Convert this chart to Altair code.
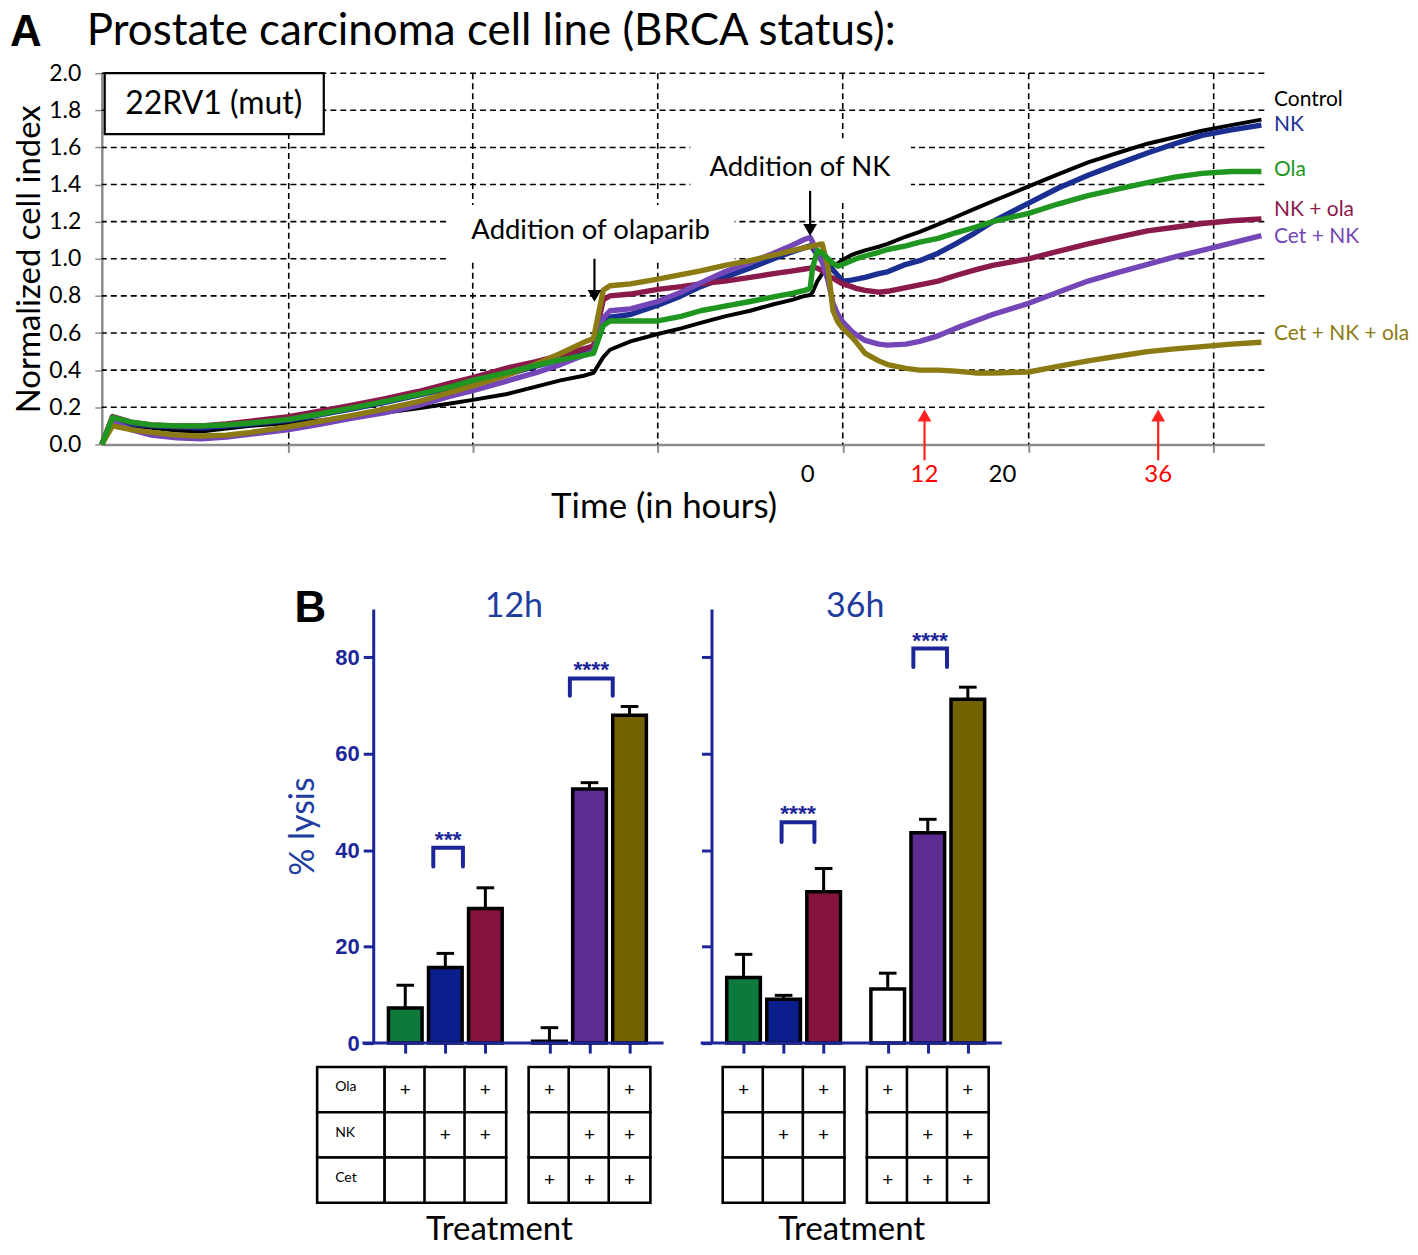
import altair as alt
import pandas as pd

# ======================= Panel A data (xCELLigence curves) =======================
series_names = ["Control", "NK", "Ola", "NK + ola", "Cet + NK", "Cet + NK + ola"]
line_colors = ["#000000", "#1b2f93", "#1f961f", "#8a1a4a", "#7546b8", "#8c7a12"]

hours = [-72.5, -71.4, -69.5, -67.4, -64.8, -62.3, -59.7, -57.2, -53.3, -50.0,
         -46.9, -43.5, -40.0, -36.7, -34.4, -31.0, -28.0, -25.4, -23.0, -22.0,
         -21.0, -20.3, -18.2, -15.4, -13.0, -11.0, -8.5, -5.9, -3.5, -1.5,
         -0.3, 0.25, 0.5, 1.0, 1.5, 2.1, 2.6, 3.1, 3.6, 4.5,
         5.0, 5.9, 7.3, 8.2, 10.1, 11.5, 13.4, 15.2, 17.2, 19.0,
         22.7, 25.7, 28.8, 31.8, 34.9, 37.7, 40.5, 43.5, 46.6]

control = [0.0, 0.13, 0.10, 0.09, 0.075, 0.07, 0.085, 0.10, 0.115, 0.13,
           0.15, 0.17, 0.195, 0.22, 0.24, 0.27, 0.31, 0.345, 0.37, 0.385,
           0.47, 0.51, 0.555, 0.595, 0.625, 0.655, 0.69, 0.72, 0.755, 0.78,
           0.80, 0.805, 0.82, 0.88, 0.92, 0.95, 0.965, 0.975, 0.995, 1.02,
           1.03, 1.045, 1.065, 1.08, 1.12, 1.145, 1.185, 1.225, 1.27, 1.31,
           1.39, 1.455, 1.52, 1.57, 1.62, 1.655, 1.69, 1.72, 1.75]

nk = [0.0, 0.13, 0.11, 0.10, 0.095, 0.09, 0.10, 0.11, 0.13, 0.16,
      0.19, 0.225, 0.265, 0.305, 0.335, 0.375, 0.42, 0.455, 0.49, 0.50,
      0.66, 0.685, 0.70, 0.75, 0.80, 0.85, 0.90, 0.95, 1.00, 1.04,
      1.06, 1.07, 1.06, 1.02, 0.99, 0.96, 0.94, 0.91, 0.88, 0.885,
      0.89, 0.90, 0.92, 0.93, 0.97, 0.99, 1.03, 1.08, 1.14, 1.20,
      1.30, 1.38, 1.45, 1.51, 1.57, 1.62, 1.665, 1.695, 1.72]

ola = [0.0, 0.145, 0.12, 0.105, 0.10, 0.10, 0.105, 0.115, 0.135, 0.165,
       0.195, 0.23, 0.27, 0.31, 0.345, 0.385, 0.425, 0.455, 0.48, 0.49,
       0.64, 0.665, 0.665, 0.665, 0.69, 0.72, 0.745, 0.77, 0.795, 0.815,
       0.83, 0.84, 0.95, 1.045, 1.03, 1.00, 0.975, 0.96, 0.97, 0.99,
       1.0, 1.015, 1.035, 1.05, 1.07, 1.09, 1.11, 1.14, 1.17, 1.20,
       1.245, 1.295, 1.34, 1.375, 1.41, 1.44, 1.46, 1.47, 1.47]

nk_ola = [0.0, 0.15, 0.12, 0.105, 0.10, 0.10, 0.11, 0.125, 0.15, 0.18,
          0.21, 0.245, 0.285, 0.33, 0.36, 0.41, 0.445, 0.48, 0.515, 0.53,
          0.78, 0.80, 0.81, 0.835, 0.85, 0.865, 0.88, 0.90, 0.92, 0.935,
          0.945, 0.95, 0.955, 0.95, 0.935, 0.91, 0.895, 0.88, 0.865, 0.85,
          0.84, 0.83, 0.82, 0.825, 0.845, 0.86, 0.88, 0.91, 0.94, 0.965,
          1.0, 1.04, 1.08, 1.115, 1.15, 1.17, 1.19, 1.205, 1.215]

cet_nk = [0.0, 0.12, 0.08, 0.05, 0.035, 0.03, 0.04, 0.055, 0.08, 0.11,
          0.14, 0.17, 0.21, 0.26, 0.29, 0.34, 0.385, 0.43, 0.48, 0.50,
          0.68, 0.72, 0.73, 0.77, 0.82, 0.87, 0.93, 0.98, 1.03, 1.075,
          1.105, 1.115, 1.09, 1.03, 0.98, 0.88, 0.76, 0.70, 0.66, 0.61,
          0.59, 0.56, 0.54, 0.535, 0.54, 0.555, 0.585, 0.625, 0.665, 0.70,
          0.76, 0.82, 0.88, 0.925, 0.97, 1.01, 1.045, 1.085, 1.125]

cet_nk_ola = [0.0, 0.10, 0.08, 0.065, 0.05, 0.045, 0.05, 0.065, 0.095, 0.125,
              0.155, 0.19, 0.23, 0.28, 0.315, 0.37, 0.43, 0.49, 0.55, 0.57,
              0.83, 0.855, 0.865, 0.89, 0.915, 0.935, 0.965, 0.99, 1.02, 1.045,
              1.06, 1.065, 1.07, 1.075, 1.08, 0.95, 0.72, 0.66, 0.625, 0.58,
              0.55, 0.49, 0.45, 0.43, 0.41, 0.40, 0.40, 0.395, 0.385, 0.385,
              0.39, 0.42, 0.45, 0.475, 0.50, 0.515, 0.527, 0.54, 0.55]

series_values = [control, nk, ola, nk_ola, cet_nk, cet_nk_ola]

y_ticks_A = [0.0, 0.2, 0.4, 0.6, 0.8, 1.0, 1.2, 1.4, 1.6, 1.8, 2.0]
vgrid_hours = [-53.3, -34.4, -15.4, 3.6, 22.7, 41.7]
time_labels = ["0", "12", "20", "36"]
time_label_hours = [0, 12, 20, 36]
time_label_colors = ["#000000", "#ff0000", "#000000", "#ff0000"]
end_label_values = [1.855, 1.72, 1.48, 1.265, 1.118, 0.597]

# ======================= Panel B data (% lysis) =======================
treatments = ["Ola", "NK", "NK + ola", "Cet + ola", "Cet + NK", "Cet + NK + ola"]
bar_colors = ["#0d7a3c", "#0b1f8c", "#84133f", "#ffffff", "#5c2c91", "#736200"]
lysis_12h = [7.3, 15.7, 27.9, 0.4, 52.7, 68.0]
sd_12h = [4.7, 2.9, 4.3, 2.8, 1.3, 1.8]
lysis_36h = [13.6, 9.1, 31.4, 11.2, 43.6, 71.3]
sd_36h = [4.8, 0.8, 4.8, 3.3, 2.8, 2.5]
agents = ["Ola", "NK", "Cet"]
has_agent = {"Ola": [1, 0, 1, 1, 0, 1], "NK": [0, 1, 1, 0, 1, 1], "Cet": [0, 0, 0, 1, 1, 1]}
panel_titles = ["12h", "36h"]
# significance brackets: (x from, x to, leg bottom, top, stars)
brackets_12h = [(0.70, 1.44, 36.6, 40.5, "***"), (4.11, 5.18, 72.0, 75.6, "****")]
brackets_36h = [(0.95, 1.77, 41.7, 45.8, "****"), (4.24, 5.08, 78.0, 81.8, "****")]

# ======================= styling =======================
FONT = "Lato"
AXB = "#1c2699"
TXTB = "#1f3c9f"
GRAY = "#8c8c8c"

WA, HA = 1165, 372
xA = alt.Scale(domain=[-72.5, 46.9], nice=False, zero=False)
yA = alt.Scale(domain=[0.0, 2.0], nice=False, zero=False)
axA_x = alt.Axis(values=vgrid_hours, labels=False, ticks=True, tickColor=GRAY, tickSize=8,
                 tickWidth=2, domainColor=GRAY, domainWidth=2.5, grid=False,
                 title="Time (in hours)", titleFont=FONT, titleFontSize=35,
                 titleFontWeight="normal", titleColor="black", titlePadding=36, titleX=563)
axA_y = alt.Axis(values=y_ticks_A, format=".1f", labelFont=FONT, labelFontSize=23,
                 labelColor="black", labelPadding=14, tickColor=GRAY, tickSize=7, tickWidth=1.5,
                 domainColor=GRAY, domainWidth=2.5, grid=False,
                 title="Normalized cell index", titleFont=FONT, titleFontSize=33,
                 titleFontWeight="normal", titleColor="black", titlePadding=2)


def XA(f):
    return alt.X(f, type="quantitative", scale=xA, axis=axA_x)


def YA(f):
    return alt.Y(f, type="quantitative", scale=yA, axis=axA_y)


dash = [6, 4]
hgrid = alt.Chart(pd.DataFrame({"v": y_ticks_A[1:]})).mark_rule(
    color="black", strokeDash=dash, strokeWidth=1.6).encode(y=YA("v"))
vgrid = alt.Chart(pd.DataFrame({"h": vgrid_hours})).mark_rule(
    color="black", strokeDash=dash, strokeWidth=1.6).encode(x=XA("h"))

# white masks that interrupt the grid behind the annotations
masks = alt.Chart(pd.DataFrame({
    "h0": [-37.1, -12.05], "h1": [-7.5, 10.6], "v0": [0.985, 1.30], "v1": [1.29, 1.65]
})).mark_rect(fill="white").encode(x=XA("h0"), x2="h1", y=YA("v0"), y2="v1")

draw_order = ["Control", "NK", "NK + ola", "Cet + NK", "Cet + NK + ola", "Ola"]
curve_layers = []
for name in draw_order:
    i = series_names.index(name)
    df = pd.DataFrame({"hours": hours, "ci": series_values[i]})
    curve_layers.append(
        alt.Chart(df).mark_line(color=line_colors[i], strokeWidth=4.0 if i == 0 else 5.4,
                                strokeJoin="round").encode(x=XA("hours"), y=YA("ci")))

box = alt.Chart(pd.DataFrame({"h0": [-72.2], "h1": [-49.7], "v0": [1.672], "v1": [2.0]})).mark_rect(
    fill="white", stroke="black", strokeWidth=2.2).encode(x=XA("h0"), x2="h1", y=YA("v0"), y2="v1")
box_text = alt.Chart(pd.DataFrame({"h": [-61.0], "v": [1.835], "t": ["22RV1 (mut)"]})).mark_text(
    fontSize=32, baseline="middle", align="center", color="black").encode(x=XA("h"), y=YA("v"), text="t:N")

notes = alt.Chart(pd.DataFrame({
    "h": [-22.3, -0.8], "v": [1.15, 1.49], "t": ["Addition of olaparib", "Addition of NK"]
})).mark_text(fontSize=27.5, baseline="middle", align="center", color="black").encode(
    x=XA("h"), y=YA("v"), text="t:N")

arrows = pd.DataFrame({
    "h": [-21.9, 0.25, 12, 36],
    "v_from": [1.0, 1.366, -0.086, -0.086],
    "v_head": [0.80, 1.155, 0.156, 0.156],
    "col": ["#000000", "#000000", "#ff2020", "#ff2020"],
    "shape": ["triangle-down", "triangle-down", "triangle-up", "triangle-up"],
})
arrow_shafts = alt.Chart(arrows).mark_rule(strokeWidth=2.2).encode(
    x=XA("h"), y=YA("v_from"), y2="v_head", color=alt.Color("col:N", scale=None))
arrow_heads = alt.Chart(arrows).mark_point(filled=True, size=190, opacity=1).encode(
    x=XA("h"), y=YA("v_head"), color=alt.Color("col:N", scale=None),
    shape=alt.Shape("shape:N", scale=None))

tlabels = alt.Chart(pd.DataFrame({
    "h": time_label_hours, "v": [-0.167] * 4, "t": time_labels, "col": time_label_colors
})).mark_text(fontSize=24, baseline="middle", align="center").encode(
    x=XA("h"), y=YA("v"), text="t:N", color=alt.Color("col:N", scale=None))

end_labels = alt.Chart(pd.DataFrame({
    "h": [47.9] * 6, "v": end_label_values, "t": series_names, "col": line_colors
})).mark_text(fontSize=21, baseline="middle", align="left").encode(
    x=XA("h"), y=YA("v"), text="t:N", color=alt.Color("col:N", scale=None))

letter_a = alt.Chart(pd.DataFrame({"t": ["A"]})).mark_text(
    font="Liberation Sans", fontWeight="bold", fontSize=44, align="left", baseline="alphabetic",
    color="black").encode(text="t:N", x=alt.value(-92), y=alt.value(-27))
title_a = alt.Chart(pd.DataFrame({"t": ["Prostate carcinoma cell line (BRCA status):"]})).mark_text(
    fontSize=44, align="left", baseline="alphabetic", color="black").encode(
    text="t:N", x=alt.value(-15), y=alt.value(-28))

panel_a = alt.layer(hgrid, vgrid, masks, *curve_layers, box, box_text, notes,
                    arrow_shafts, arrow_heads, tlabels, end_labels, letter_a, title_a
                    ).properties(width=WA, height=HA)

# ======================= Panel B =======================
WB, HB = 291, 435
xB = alt.Scale(domain=[-0.8, 6.45], nice=False, zero=False)
yB = alt.Scale(domain=[0, 90], nice=False, zero=False)
rowB = alt.Scale(domain=[0, 3], range=[459, 595], nice=False, zero=False)
positions = [i + (0.6 if i >= 3 else 0.0) for i in range(6)]


def bar_panel(k, lysis, sd, brackets, first):
    axB_x = alt.Axis(values=positions, labels=False, domain=False, ticks=True, tickColor=AXB,
                     tickSize=10, tickWidth=3, grid=False, title=None)
    if first:
        axB_y = alt.Axis(values=[0, 20, 40, 60, 80], labelFont="Liberation Sans", labelFontWeight="bold",
                         labelFontSize=22, labelColor=AXB, labelPadding=4, tickColor=AXB, tickSize=10,
                         tickWidth=3, domainColor=AXB, domainWidth=3, grid=False, title="% lysis",
                         titleFont=FONT, titleFontSize=34, titleFontWeight="normal", titleColor=TXTB,
                         titlePadding=14)
    else:
        axB_y = alt.Axis(values=[0, 20, 40, 60, 80], labels=False, tickColor=AXB, tickSize=10,
                         tickWidth=3, domainColor=AXB, domainWidth=3, grid=False, title=None)

    def X(f):
        return alt.X(f, type="quantitative", scale=xB, axis=axB_x)

    def Y(f):
        return alt.Y(f, type="quantitative", scale=yB, axis=axB_y)

    def R(f):
        return alt.Y(f, type="quantitative", scale=rowB, axis=None)

    bars = pd.DataFrame({"treatment": treatments, "pos": positions, "lysis": lysis, "sd": sd,
                         "fill": bar_colors})
    bars["x0"] = bars["pos"] - 0.42
    bars["x1"] = bars["pos"] + 0.42
    bars["top"] = bars["lysis"] + bars["sd"]
    bars["c0"] = bars["pos"] - 0.22
    bars["c1"] = bars["pos"] + 0.22
    bars["zero"] = 0.0

    rects = alt.Chart(bars).mark_rect(stroke="black", strokeWidth=3.5).encode(
        x=X("x0"), x2="x1", y=Y("lysis"), y2="zero", fill=alt.Fill("fill:N", scale=None))
    err = alt.Chart(bars).mark_rule(color="black", strokeWidth=3).encode(
        x=X("pos"), y=Y("lysis"), y2="top")
    cap = alt.Chart(bars).mark_rule(color="black", strokeWidth=3).encode(
        x=X("c0"), x2="c1", y=Y("top"))
    base = alt.Chart(pd.DataFrame({"xa": [-1.07], "xb": [6.45], "y0": [0.0]})).mark_rule(
        color=AXB, strokeWidth=3).encode(x=X("xa"), x2="xb", y=Y("y0"))

    pts = []
    stars = []
    for j, (b0, b1, lo, hi, s) in enumerate(brackets):
        for o, (bx, by) in enumerate([(b0, lo), (b0, hi), (b1, hi), (b1, lo)]):
            pts.append({"bid": j, "ord": o, "bx": bx, "by": by})
        stars.append({"sx": (b0 + b1) / 2, "sy": hi, "s": s})
    br = alt.Chart(pd.DataFrame(pts)).mark_line(color=AXB, strokeWidth=4, strokeJoin="miter",
                                                strokeCap="round").encode(
        x=X("bx"), y=Y("by"), detail="bid:N", order="ord:Q")
    st = alt.Chart(pd.DataFrame(stars)).mark_text(color=AXB, fontSize=23, fontWeight="bold",
                                                  baseline="alphabetic", dy=-1,
                                                  font="Liberation Sans").encode(
        x=X("sx"), y=Y("sy"), text="s:N")

    head = alt.Chart(pd.DataFrame({"t": [panel_titles[k]]})).mark_text(
        fontSize=34, color=TXTB, align="center", baseline="alphabetic").encode(
        text="t:N", x=alt.value(141 if first else 144), y=alt.value(8))
    main_layers = [rects, err, cap, base, br, st, head]
    if first:
        main_layers.append(alt.Chart(pd.DataFrame({"t": ["B"]})).mark_text(
            font="Liberation Sans", fontWeight="bold", fontSize=44, align="left",
            baseline="alphabetic", color="black").encode(text="t:N", x=alt.value(-79), y=alt.value(13)))

    cells = []
    for i, p in enumerate(positions):
        for r, ag in enumerate(agents):
            cells.append({"x0": p - 0.52, "x1": p + 0.52, "r0": r, "r1": r + 1,
                          "xc": p, "rc": r + 0.5, "m": "+" if has_agent[ag][i] else ""})
    if first:
        for r, ag in enumerate(agents):
            cells.append({"x0": -2.2, "x1": -0.52, "r0": r, "r1": r + 1,
                          "xc": -1.75, "rc": r + 0.5, "m": ""})
    cells = pd.DataFrame(cells)
    grid = alt.Chart(cells).mark_rect(fill="white", stroke="black", strokeWidth=2.6).encode(
        x=X("x0"), x2="x1", y=R("r0"), y2="r1")
    plus = alt.Chart(cells).mark_text(fontSize=19, font="Liberation Sans", baseline="middle",
                                      color="black").encode(x=X("xc"), y=R("rc"), text="m:N")
    table_layers = [grid, plus]
    if first:
        labs = alt.Chart(pd.DataFrame({"xc": [-1.75] * 3, "rc": [0.45, 1.45, 2.45], "t": agents})).mark_text(
            fontSize=14, align="left", baseline="middle", color="black").encode(
            x=X("xc"), y=R("rc"), text="t:N")
        table_layers.append(labs)
    treat = alt.Chart(pd.DataFrame({"xc": [2.35 if first else 2.7], "rc": [3.61],
                                    "t": ["Treatment"]})).mark_text(
        fontSize=33, align="center", baseline="middle", color="black").encode(
        x=X("xc"), y=R("rc"), text="t:N")
    table_layers.append(treat)

    return alt.layer(alt.layer(*main_layers), alt.layer(*table_layers)).resolve_scale(
        y="independent").properties(width=WB, height=HB)


left_b = bar_panel(0, lysis_12h, sd_12h, brackets_12h, True)
right_b = bar_panel(1, lysis_36h, sd_36h, brackets_36h, False)
spacer = alt.Chart(pd.DataFrame({"s": [0]})).mark_point(opacity=0).encode(
    x=alt.value(0), y=alt.value(0)).properties(width=224, height=10)
panel_b = alt.hconcat(spacer, left_b, right_b, spacing=48, bounds="flush")

chart = alt.vconcat(panel_a, panel_b, spacing=63,
                    padding={"left": 2, "top": 1, "right": 0, "bottom": 0}).configure(
    font=FONT).configure_view(stroke=None)

chart.save("out.html", embed_options={"renderer": "svg", "actions": False})
